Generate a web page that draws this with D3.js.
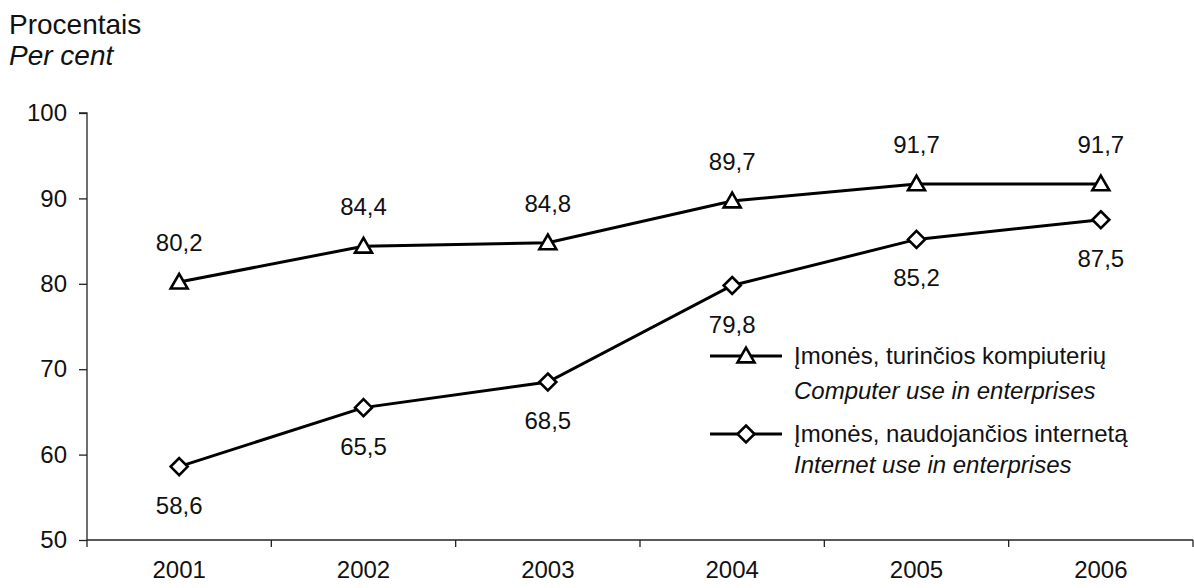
<!DOCTYPE html>
<html><head><meta charset="utf-8">
<script src="https://cdn.jsdelivr.net/npm/d3@7"></script>
<style>body{margin:0;background:#fff}text{font-family:"Liberation Sans",Arial,sans-serif;fill:#111}</style>
</head><body><svg id="c" width="1194" height="588"></svg>
<script>
const years = ["2001","2002","2003","2004","2005","2006"];
const computerUse = [80.2,84.4,84.8,89.7,91.7,91.7];
const internetUse = [58.6,65.5,68.5,79.8,85.2,87.5];
const yTicks = [50,60,70,80,90,100];
const fmt = v => d3.format(".1f")(v).replace(".", ",");

const svg = d3.select("#c");
const x = d3.scaleBand().domain(years).range([87,1193]);
const y = d3.scaleLinear().domain([50,100]).range([540,113]);
const fs = 24;
const FF = "Liberation Sans, Arial, sans-serif";

// title
svg.append("text").attr("x",9).attr("y",34).attr("font-size",28).text("Procentais");
svg.append("text").attr("x",9).attr("y",65).attr("font-size",28).attr("font-style","italic").text("Per cent");

// y axis
const ya = svg.append("g").attr("transform","translate(87,0)")
  .call(d3.axisLeft(y).tickValues(yTicks).tickSize(8).tickPadding(12).tickFormat(d3.format("d")));
ya.select(".domain").attr("stroke","#222").attr("stroke-width",1.3).attr("d","M-8,113H0V540");
ya.selectAll(".tick line").attr("stroke","#222").attr("stroke-width",1.3);
ya.selectAll(".tick text").attr("font-size",fs).attr("font-family",FF).attr("fill","#111");

// x axis
const xa = svg.append("g").attr("transform","translate(0,540)")
  .call(d3.axisBottom(x).tickSize(0).tickPadding(21));
xa.select(".domain").attr("stroke","#222").attr("stroke-width",1.3).attr("d","M87,0H1193");
xa.selectAll(".tick text").attr("font-size",fs).attr("font-family",FF).attr("fill","#111");
const bounds = years.map(d=>x(d)).concat([x(years[years.length-1])+x.bandwidth()]);
xa.selectAll("line.b").data(bounds).join("line").attr("class","b")
  .attr("x1",d=>d).attr("x2",d=>d).attr("y1",0).attr("y2",7).attr("stroke","#222").attr("stroke-width",1.3);

const cx = d => x(d)+x.bandwidth()/2;
const line = d3.line().x((d,i)=>cx(years[i])).y(d=>y(d));

const tri = () => d3.symbol().type(d3.symbolTriangle).size(125)();
const dia = () => "M0,-8.5L8.5,0L0,8.5L-8.5,0Z";

function series(vals, sym, dy, shift){
  svg.append("path").datum(vals).attr("d",line).attr("fill","none").attr("stroke","#000").attr("stroke-width",3);
  svg.selectAll(null).data(vals).join("path")
    .attr("transform",(d,i)=>`translate(${cx(years[i])},${y(d)+shift})`)
    .attr("d",sym()).attr("fill","#fff").attr("stroke","#000").attr("stroke-width",2.6);
  svg.selectAll(null).data(vals).join("text")
    .attr("x",(d,i)=>cx(years[i])).attr("y",d=>y(d)+dy)
    .attr("text-anchor","middle").attr("font-size",fs).text(fmt);
}
series(computerUse, tri, -31, 1.5);
series(internetUse, dia, 47, 0);

// legend
const leg = [
  {sym:tri, shift:1.5, y:356, a:"Įmonės, turinčios kompiuterių", b:"Computer use in enterprises", by:391},
  {sym:dia, shift:0, y:434, a:"Įmonės, naudojančios internetą", b:"Internet use in enterprises", by:465}
];
leg.forEach(l=>{
  svg.append("line").attr("x1",710).attr("x2",782).attr("y1",l.y).attr("y2",l.y).attr("stroke","#000").attr("stroke-width",3);
  svg.append("path").attr("transform",`translate(746,${l.y+l.shift})`).attr("d",l.sym()).attr("fill","#fff").attr("stroke","#000").attr("stroke-width",2.6);
  svg.append("text").attr("x",794).attr("y",l.y+8).attr("font-size",fs).text(l.a);
  svg.append("text").attr("x",794).attr("y",l.by+8).attr("font-size",fs).attr("font-style","italic").text(l.b);
});
</script></body></html>
